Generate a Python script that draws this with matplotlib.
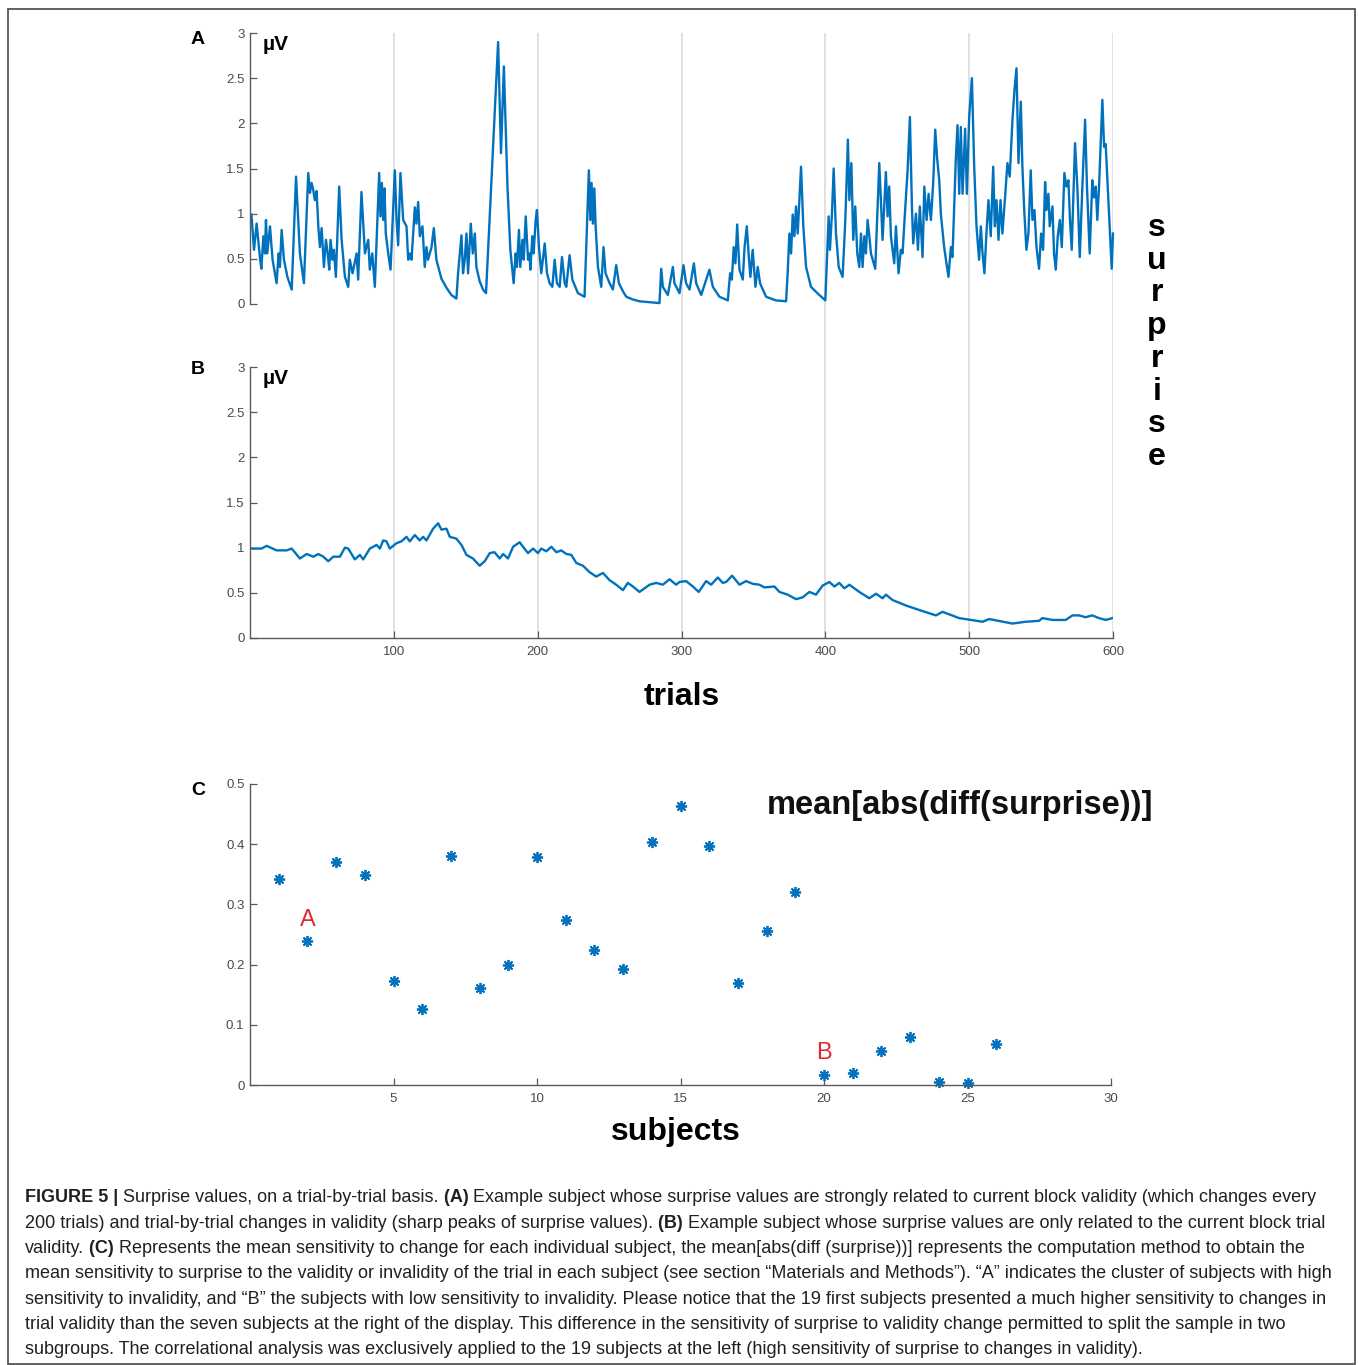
import numpy as np
import matplotlib
matplotlib.use('Agg')
import matplotlib.pyplot as plt
from matplotlib.patches import Rectangle

plt.rcParams['font.family'] = ['Liberation Sans', 'DejaVu Sans']

# ---- panel A: surprise of an example subject (trial, value)
trial_a = [1, 2.8, 4.6, 7.0, 7.9, 9.3, 10.4, 11.1, 12.0, 13.9, 15.7, 18.5, 19.9, 20.8, 22.0, 23.6,
           26.0, 29.0, 32.0, 34.7, 37.5, 40.5, 41.7, 42.8, 44.0, 45.1, 46.3, 47.5, 48.6, 49.8,
           51.4, 52.8, 54.0, 55.1, 56.0, 57.4, 58.3, 59.7, 62.0, 63.7, 66.0, 68.3, 69.4, 71.3,
           74.1, 75.2, 77.5, 79.9, 82.2, 83.3, 85.0, 86.8, 89.8, 90.7, 91.7, 92.6, 93.5, 94.4,
           96.1, 97.7, 100.7, 101.9, 103.0, 104.6, 106.5, 108.8, 110.0, 111.1, 112.3, 114.6,
           115.7, 116.9, 118.1, 119.9, 121.5, 122.7, 123.8, 125.0, 126.2, 127.8, 129.6, 133.1,
           136.6, 140.0, 143.5, 144.7, 147.0, 148.1, 149.3, 150.5, 151.6, 152.5, 153.5, 154.9,
           156.3, 157.4, 159.7, 162.0, 164.1, 172.5, 174.5, 176.5, 179.0, 181.0, 183.3,
           184.7, 185.6, 187.0, 187.9, 189.4, 190.3, 191.7, 193.3, 194.4, 194.9, 196.3, 197.2,
           198.6, 199.5, 200.9, 202.5, 204.9, 206.5, 208.3, 210.2, 211.8, 213.4, 215.3, 216.9,
           218.8, 219.9, 222.2, 224.1, 228.0, 232.6, 235.6, 236.6, 237.5, 238.4, 239.4, 240.3,
           241.9, 244.2, 245.8, 247.2, 250.0, 252.3, 254.6, 256.5, 259.3, 261.6, 266.2, 270.8,
           277.8, 284.7, 285.9, 287.0, 290.5, 294.0, 295.1, 298.6, 301.4, 303.2, 305.6, 308.6,
           310.2, 313.7, 319.4, 321.8, 326.4, 332.2, 333.8, 335.0, 336.3, 337.5, 338.7, 340.3,
           342.6, 343.8, 345.4, 346.8, 347.9, 349.5, 351.4, 353.0, 354.6, 358.8, 365.7, 372.7,
           373.8, 375.0, 376.2, 377.3, 378.5, 379.6, 380.8, 383.1, 384.7, 386.6, 390.0, 395.8,
           400.0, 402.3, 403.2, 404.6, 405.8, 407.4, 409.3, 412.0, 413.9, 415.7, 416.7, 418.1,
           419.4, 420.8, 422.2, 423.6, 424.8, 425.9, 427.1, 428.2, 429.4, 430.6, 431.7, 434.7,
           437.5, 439.8, 442.1, 443.3, 444.4, 445.6, 447.9, 449.1, 450.9, 452.5, 453.7, 454.9,
           457.2, 458.8, 460.2, 461.1, 463.0, 464.4, 465.7, 467.6, 468.8, 470.4, 471.8, 473.4,
           475.0, 476.4, 477.8, 479.2, 480.3, 482.6, 485.6, 487.3, 488.4, 490.7, 491.9, 493.1,
           494.2, 495.4, 497.2, 498.4, 500.0, 501.9, 503.5, 505.1, 506.9, 508.1, 509.3, 510.6,
           512.0, 513.4, 515.0, 516.7, 517.8, 519.0, 520.4, 521.8, 523.1, 525.0, 526.6, 528.2,
           530.1, 531.5, 532.9, 534.3, 535.9, 537.0, 538.4, 539.8, 541.2, 542.8, 544.0, 545.4,
           546.8, 548.6, 550.0, 551.4, 552.8, 553.7, 555.1, 556.0, 557.9, 559.0, 560.2, 561.6,
           563.0, 564.4, 566.2, 567.6, 569.0, 570.1, 571.3, 573.6, 575.2, 576.9, 578.7, 580.6,
           581.9, 583.8, 585.6, 586.8, 588.0, 589.1, 590.3, 592.6, 593.8, 594.9, 596.1, 597.7,
           599.1, 600.0]
surprise_a = [0.99, 0.60, 0.89, 0.50, 0.39, 0.75, 0.56, 0.93, 0.56, 0.86, 0.49, 0.23, 0.56, 0.41, 0.82, 0.49,
              0.30, 0.16, 1.41, 0.56, 0.23, 1.45, 1.23, 1.34, 1.26, 1.15, 1.25, 0.86, 0.63, 0.84,
              0.41, 0.71, 0.56, 0.38, 0.71, 0.49, 0.60, 0.30, 1.30, 0.71, 0.30, 0.19, 0.49, 0.34,
              0.56, 0.27, 1.24, 0.56, 0.71, 0.38, 0.56, 0.19, 1.45, 0.97, 1.34, 0.93, 1.28, 0.78,
              0.56, 0.38, 1.48, 0.93, 0.65, 1.45, 0.93, 0.86, 0.49, 0.56, 0.49, 1.07,
              0.89, 1.13, 0.75, 0.86, 0.41, 0.63, 0.49, 0.56, 0.63, 0.84, 0.49, 0.28,
              0.18, 0.10, 0.06, 0.35, 0.76, 0.34, 0.49, 0.78, 0.34, 0.60, 0.89, 0.56,
              0.78, 0.41, 0.25, 0.16, 0.12, 2.90, 1.67, 2.63, 1.30, 0.60, 0.23,
              0.56, 0.41, 0.82, 0.41, 0.71, 0.49, 0.97, 0.49, 0.56, 0.38, 0.75, 0.56,
              0.93, 1.04, 0.63, 0.34, 0.67, 0.34, 0.23, 0.19, 0.49, 0.23, 0.19, 0.52,
              0.23, 0.19, 0.54, 0.27, 0.12, 0.08, 1.48, 0.93, 1.34, 0.89, 1.28, 0.86,
              0.41, 0.19, 0.63, 0.34, 0.23, 0.16, 0.43, 0.23, 0.14, 0.08, 0.05, 0.03,
              0.02, 0.01, 0.39, 0.19, 0.10, 0.41, 0.23, 0.12, 0.43, 0.23, 0.16, 0.45,
              0.23, 0.10, 0.38, 0.19, 0.08, 0.04, 0.34, 0.27, 0.63, 0.45, 0.88, 0.38,
              0.27, 0.62, 0.86, 0.52, 0.30, 0.60, 0.19, 0.41, 0.23, 0.08, 0.04, 0.03,
              0.34, 0.78, 0.56, 0.99, 0.75, 1.08, 0.78, 1.52, 0.86, 0.41, 0.19, 0.10,
              0.04, 0.97, 0.60, 1.00, 1.50, 0.78, 0.41, 0.30, 0.93, 1.82, 1.15, 1.56,
              0.71, 1.08, 0.56, 0.41, 0.78, 0.41, 0.75, 0.56, 0.93, 0.75, 0.56, 0.39,
              1.56, 0.71, 1.46, 0.97, 1.30, 0.75, 0.45, 0.86, 0.34, 0.60, 0.56, 0.89,
              1.48, 2.07, 1.08, 0.67, 1.00, 0.60, 1.08, 0.52, 1.30, 0.93, 1.22, 0.93,
              1.34, 1.93, 1.60, 1.37, 1.00, 0.63, 0.30, 0.63, 0.52, 1.60, 1.98, 1.22,
              1.96, 1.22, 1.94, 1.22, 2.07, 2.50, 1.52, 0.86, 0.49, 0.86, 0.56, 0.34,
              0.78, 1.15, 0.75, 1.52, 0.86, 1.15, 0.71, 1.15, 0.78, 1.19, 1.56, 1.41,
              2.04, 2.37, 2.61, 1.56, 2.24, 1.52, 1.00, 0.60, 0.78, 1.48, 0.93, 1.04,
              0.63, 0.39, 0.78, 0.60, 1.35, 1.04, 1.22, 0.86, 1.08, 0.56, 0.38, 0.75,
              0.93, 0.63, 1.45, 1.30, 1.37, 0.93, 0.60, 1.78, 1.30, 0.52, 1.30, 2.04,
              1.30, 0.56, 1.37, 1.18, 1.30, 0.93, 1.30, 2.26, 1.74, 1.77, 1.37, 0.86,
              0.39, 0.78]

# ---- panel B: surprise of a second example subject
trial_b = [1, 8, 11.6, 18.5, 25.5, 29, 34.7, 39.4, 44, 47.5, 51, 54.4, 57.9, 62.5, 66, 68.3,
           72.9, 76.4, 78.7, 83.3, 88, 90.3, 92.6, 94.9, 97.2, 101.9, 105.3, 108.8, 111.1,
           114.6, 118, 120.4, 122.7, 127.3, 130.8, 133.1, 136.6, 138.9, 143.5, 147, 150.5,
           155, 159.7, 163.2, 166.7, 170, 173.6, 176, 179.4, 182.9, 187.5, 189.8, 193.3,
           196.8, 200.2, 202.5, 206, 209.5, 213, 216.4, 220, 223.4, 226.9, 231.5, 236,
           240.7, 245.4, 250, 254.6, 259.3, 262.7, 266.2, 270.8, 274.3, 277.8, 282.4, 287,
           291.7, 296.3, 298.6, 303.2, 307.9, 312.0, 317.1, 320.6, 325.2, 328.7, 331.0,
           335.2, 340.3, 344.9, 349.5, 354.2, 357.6, 364.6, 368.1, 373.8, 379.6, 384.3,
           388.9, 393.5, 398.1, 402.8, 406.3, 409.7, 413.2, 416.7, 423.6, 430.6, 435.2,
           439.8, 442.1, 446.8, 456.0, 465.3, 476.9, 481.5, 493.1, 509.3, 513.9, 530.1,
           539.4, 548.6, 550.9, 557.9, 567.1, 571.8, 576.4, 581.0, 585.6, 590.3, 594.9, 599.5]
surprise_b = [0.99, 0.99, 1.02, 0.97, 0.97, 0.99, 0.88, 0.93, 0.90, 0.93, 0.90, 0.85, 0.90, 0.90, 1.00, 0.99,
              0.87, 0.92, 0.87, 0.99, 1.03, 0.99, 1.08, 1.07, 0.99, 1.05, 1.07, 1.12, 1.07,
              1.14, 1.08, 1.12, 1.08, 1.21, 1.27, 1.20, 1.21, 1.12, 1.10, 1.03, 0.92,
              0.88, 0.80, 0.85, 0.94, 0.95, 0.88, 0.93, 0.88, 1.01, 1.06, 1.01, 0.94,
              0.99, 0.94, 0.99, 0.96, 1.01, 0.95, 0.97, 0.93, 0.92, 0.83, 0.80, 0.73,
              0.68, 0.72, 0.64, 0.59, 0.53, 0.61, 0.57, 0.51, 0.55, 0.59, 0.61, 0.59,
              0.65, 0.59, 0.62, 0.63, 0.57, 0.51, 0.63, 0.59, 0.67, 0.61, 0.62,
              0.69, 0.59, 0.63, 0.60, 0.59, 0.56, 0.57, 0.51, 0.48, 0.43, 0.45,
              0.51, 0.48, 0.58, 0.62, 0.57, 0.61, 0.55, 0.59, 0.51, 0.44, 0.49,
              0.44, 0.48, 0.42, 0.36, 0.31, 0.25, 0.29, 0.22, 0.18, 0.21, 0.16,
              0.18, 0.19, 0.22, 0.20, 0.20, 0.25, 0.25, 0.23, 0.25, 0.22, 0.20, 0.22]

# ---- panel C: mean[abs(diff(surprise))] per subject
subjects = list(range(1, 27))
mean_abs_diff = [0.342, 0.239, 0.370, 0.349, 0.173, 0.126, 0.380, 0.161, 0.199, 0.379,
                 0.274, 0.224, 0.193, 0.404, 0.463, 0.397, 0.169, 0.256, 0.321, 0.017,
                 0.020, 0.056, 0.080, 0.005, 0.003, 0.068]

grid_trials = [100, 200, 300, 400, 500, 600]
y_ticks_ab = [0, 0.5, 1, 1.5, 2, 2.5, 3]
y_labels_ab = ['0', '0.5', '1', '1.5', '2', '2.5', '3']
x_ticks_c = [5, 10, 15, 20, 25, 30]
y_ticks_c = [0, 0.1, 0.2, 0.3, 0.4, 0.5]
y_labels_c = ['0', '0.1', '0.2', '0.3', '0.4', '0.5']

caption_lines = [
    [("FIGURE 5 |", True), (" Surprise values, on a trial-by-trial basis.", False), (" (A)", True),
     (" Example subject whose surprise values are strongly related to current block validity (which changes every", False)],
    [("200 trials) and trial-by-trial changes in validity (sharp peaks of surprise values).", False), (" (B)", True),
     (" Example subject whose surprise values are only related to the current block trial", False)],
    [("validity.", False), (" (C)", True),
     (" Represents the mean sensitivity to change for each individual subject, the mean[abs(diff (surprise))] represents the computation method to obtain the", False)],
    [("mean sensitivity to surprise to the validity or invalidity of the trial in each subject (see section \u201cMaterials and Methods\u201d). \u201cA\u201d indicates the cluster of subjects with high", False)],
    [("sensitivity to invalidity, and \u201cB\u201d the subjects with low sensitivity to invalidity. Please notice that the 19 first subjects presented a much higher sensitivity to changes in", False)],
    [("trial validity than the seven subjects at the right of the display. This difference in the sensitivity of surprise to validity change permitted to split the sample in two", False)],
    [("subgroups. The correlational analysis was exclusively applied to the 19 subjects at the left (high sensitivity of surprise to changes in validity).", False)],
]

W, H = 1358, 1365
fig = plt.figure(figsize=(W / 100, H / 100), dpi=100)


def fx(px):
    return px / W


def fy(py):
    return 1 - py / H


blue = '#0072BD'
axis_col = '#5a5a5a'
tick_col = '#4a4a4a'


def style(ax, bottom=True):
    ax.patch.set_alpha(0)
    for s in ['top', 'right']:
        ax.spines[s].set_visible(False)
    ax.spines['left'].set_color(axis_col)
    ax.spines['bottom'].set_color(axis_col)
    ax.spines['left'].set_linewidth(1.0)
    ax.spines['bottom'].set_linewidth(1.0)
    ax.spines['bottom'].set_visible(bottom)
    ax.tick_params(direction='in', length=5, width=0.9, color=axis_col,
                   labelsize=9.5, labelcolor=tick_col, pad=4)


# vertical grid lines shared by A and B
ax_grid = fig.add_axes([fx(250), fy(638), 863 / W, (638 - 33) / H])
ax_grid.set_xlim(0, 600)
ax_grid.set_ylim(0, 1)
ax_grid.axis('off')
for g in grid_trials:
    ax_grid.axvline(g, color='#dcdcdc', lw=1.2)

# panel A
ax_a = fig.add_axes([fx(250), fy(304), 863 / W, 271 / H])
ax_a.plot(trial_a, surprise_a, color=blue, lw=1.7, clip_on=False)
ax_a.set_xlim(0, 600)
ax_a.set_ylim(0, 3)
ax_a.set_xticks([])
ax_a.set_yticks(y_ticks_ab)
ax_a.set_yticklabels(y_labels_ab)
style(ax_a, bottom=False)

# panel B
ax_b = fig.add_axes([fx(250), fy(638), 863 / W, 271 / H])
ax_b.plot(trial_b, surprise_b, color=blue, lw=1.7)
ax_b.set_xlim(0, 600)
ax_b.set_ylim(0, 3)
ax_b.set_xticks(grid_trials)
ax_b.set_yticks(y_ticks_ab)
ax_b.set_yticklabels(y_labels_ab)
style(ax_b)
ax_b.tick_params(axis='x', pad=6)

# panel C
ax_c = fig.add_axes([fx(250), fy(1085), 861 / W, 301 / H])
ax_c.plot(subjects, mean_abs_diff, linestyle='none', marker=(8, 2, 0),
          markersize=8, markeredgewidth=1.3, color=blue, clip_on=False)
ax_c.set_xlim(0, 30)
ax_c.set_ylim(0, 0.5)
ax_c.set_xticks(x_ticks_c)
ax_c.set_yticks(y_ticks_c)
ax_c.set_yticklabels(y_labels_c)
style(ax_c)
ax_c.tick_params(axis='x', pad=6)
ax_c.text(2, 0.274, 'A', color='#e02a36', fontsize=17, ha='center', va='center')
ax_c.text(20, 0.053, 'B', color='#e02a36', fontsize=17, ha='center', va='center')
ax_c.text(18.0, 0.465, 'mean[abs(diff(surprise))]', fontsize=23.5, fontweight='bold',
          ha='left', va='center', color='#111111')

# panel letters and unit labels
for lab, py in [('A', 40), ('B', 370), ('C', 790)]:
    fig.text(fx(198), fy(py), lab, fontsize=14, fontweight='bold', ha='center', va='center')
for py in [44, 378]:
    fig.text(fx(263), fy(py), '\u00b5V', fontsize=15, fontweight='bold', ha='left', va='center')

fig.text(fx(682), fy(697), 'trials', fontsize=23, fontweight='bold', ha='center', va='center')
fig.text(fx(676), fy(1132), 'subjects', fontsize=23, fontweight='bold', ha='center', va='center')

# vertical 'surprise' label, letters stacked
for i, ch in enumerate('surprise'):
    fig.text(fx(1157), fy(228 + i * 32.7), ch, fontsize=23, fontweight='bold',
             ha='center', va='center')

# caption
renderer = fig.canvas.get_renderer()
for i, runs in enumerate(caption_lines):
    x = 25
    y = fy(1198 + i * 25.3)
    for txt, bold in runs:
        t = fig.text(fx(x), y, txt, fontsize=12.95, fontweight='bold' if bold else 'normal',
                     color='#231f20', ha='left', va='center')
        x += t.get_window_extent(renderer).width

# outer frame
fig.patches.append(Rectangle((fx(8), fy(1364)), (1355 - 8) / W, (1364 - 9) / H,
                             transform=fig.transFigure, fill=False,
                             edgecolor='#555555', lw=1.3))

fig.savefig('out.png', dpi=100)
